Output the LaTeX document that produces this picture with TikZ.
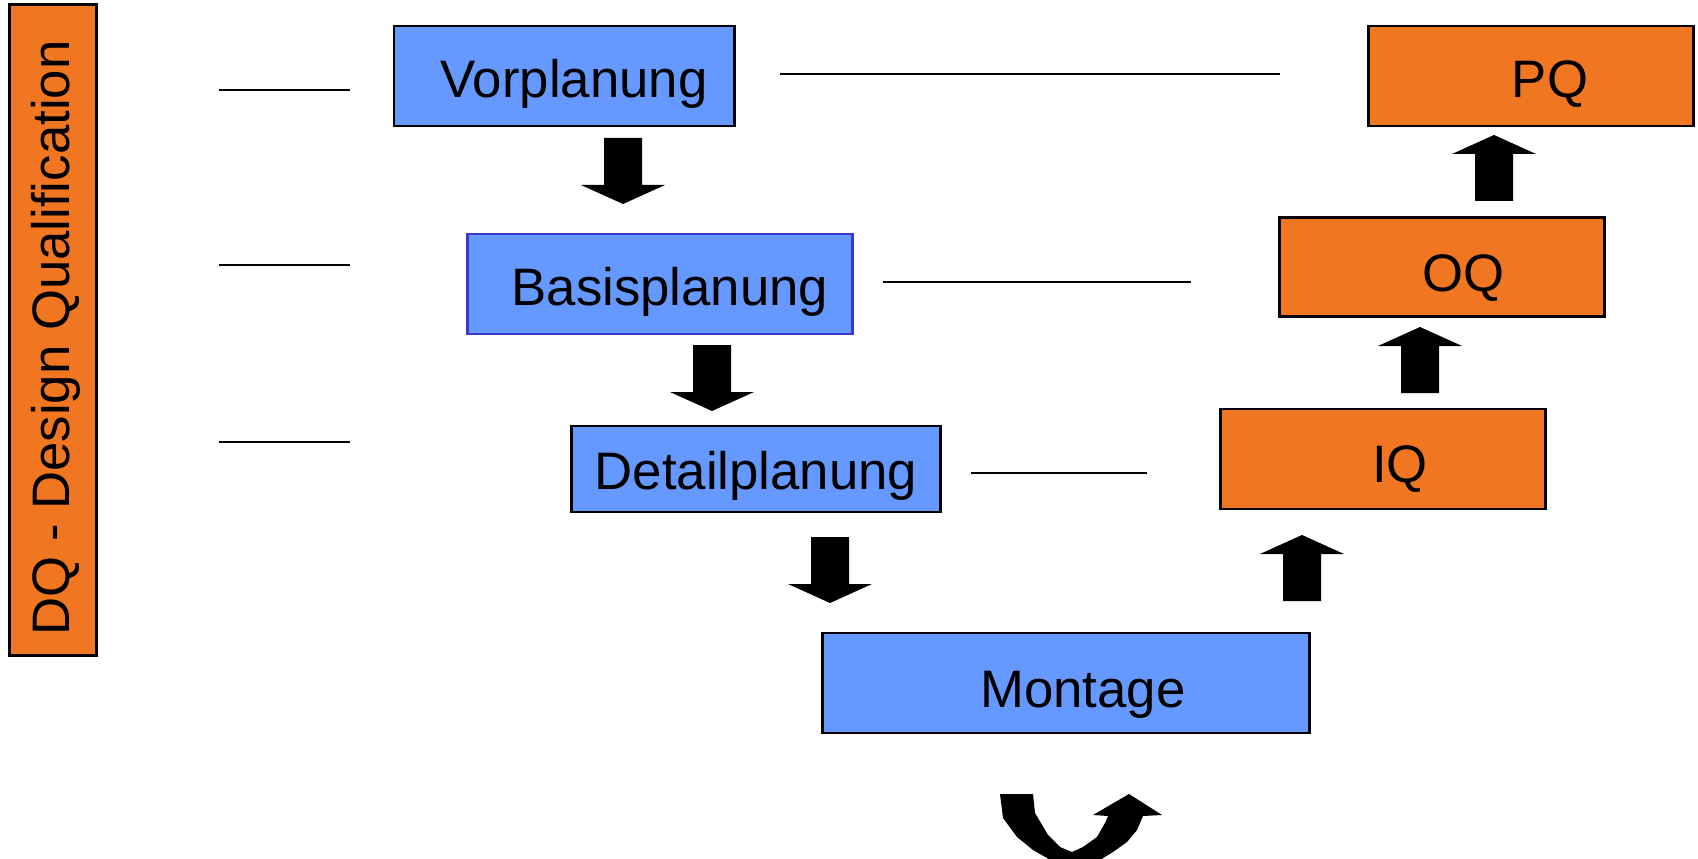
\documentclass[tikz,border=0pt]{standalone}
\usepackage{fontspec}
\setmainfont{Liberation Sans}
\usetikzlibrary{positioning}
\definecolor{planblue}{HTML}{6699FF}
\definecolor{qorange}{HTML}{F07622}
\definecolor{rimblue}{HTML}{3A3ACC}

\begin{document}
\begin{tikzpicture}[
  x=0.01cm, y=-0.01cm,
  font=\fontsize{15}{18}\selectfont,
  box/.style={draw,line width=0.8pt,inner sep=0pt,align=center,minimum height=1cm,text depth=0pt},
  plan/.style={box,fill=planblue},
  qual/.style={box,fill=qorange,minimum width=3.25cm},
  rule/.style={line width=0.7pt},
  blockarrow/.pic={\fill (-19,0) -- (-19,47) -- (-42,47) -- (0,66) -- (42,47) -- (19,47) -- (19,0) -- cycle;}]
\useasboundingbox (0,0) rectangle (1698,858);
% phases of planning
\node[plan,minimum width=3.4cm,text height=12pt] (vor) at (564,76) {\hspace*{0.2cm}Vorplanung};
\node[plan,draw=rimblue,minimum width=3.84cm,text height=12.5pt] (basis) at (660,284) {\hspace*{0.2cm}Basisplanung};
\node[plan,minimum width=3.69cm,minimum height=0.86cm,text height=11.9pt] (detail) at (756,469) {Detailplanung};
\node[plan,minimum width=4.87cm,text height=13.8pt] (mont) at (1066,683) {\hspace*{0.34cm}Montage};
% qualification
\node[qual,text height=12.5pt] (pq) at (1531,76) {\hspace*{0.38cm}PQ};
\node[qual,minimum height=0.99cm,text height=13.7pt] (oq) at (1442,267) {\hspace*{0.42cm}OQ};
\node[qual,text height=13.6pt] (iq) at (1383,459) {\hspace*{0.34cm}IQ};
\node[box,fill=qorange,rotate=90,minimum width=6.5cm,minimum height=0.87cm,text height=9.5pt] (dq) at (53,330) {DQ - Design Qualification\hspace*{0.16cm}};
% arrows down and up
\pic at (623,138) {blockarrow};
\pic at (712,345) {blockarrow};
\pic at (830,537) {blockarrow};
\pic[rotate=180] at (1302,601) {blockarrow};
\pic[rotate=180] at (1420,393) {blockarrow};
\pic[rotate=180] at (1494,201) {blockarrow};
% horizontal rules
\coordinate (l1a) at (219,90);  \coordinate (l1b) at (350,90);
\coordinate (l2a) at (219,265); \coordinate (l2b) at (350,265);
\coordinate (l3a) at (219,442); \coordinate (l3b) at (350,442);
\coordinate (m1a) at (780,74);  \coordinate (m1b) at (1280,74);
\coordinate (m2a) at (883,282); \coordinate (m2b) at (1191,282);
\coordinate (m3a) at (971,473); \coordinate (m3b) at (1147,473);
\draw[rule] (l1a) -- (l1b); \draw[rule] (l2a) -- (l2b); \draw[rule] (l3a) -- (l3b);
\draw[rule] (m1a) -- (m1b); \draw[rule] (m2a) -- (m2b); \draw[rule] (m3a) -- (m3b);
% u-turn below Montage
\begin{scope}
\clip (0,0) rectangle (1698,858);
\fill (1000,794) -- (1033,794) -- (1035,813) -- (1048,835) -- (1060,847) -- (1072,852)
  -- (1083,847) -- (1097,837) -- (1105,823) -- (1108,816) -- (1093,815) -- (1129,794)
  -- (1162,815) -- (1143,816) -- (1137,830) -- (1127,842) -- (1113,852) -- (1103,858)
  -- (1090,870) -- (1060,870) -- (1047,858) -- (1033,850) -- (1017,837) -- (1003,818) -- cycle;
\end{scope}
\end{tikzpicture}
\end{document}
